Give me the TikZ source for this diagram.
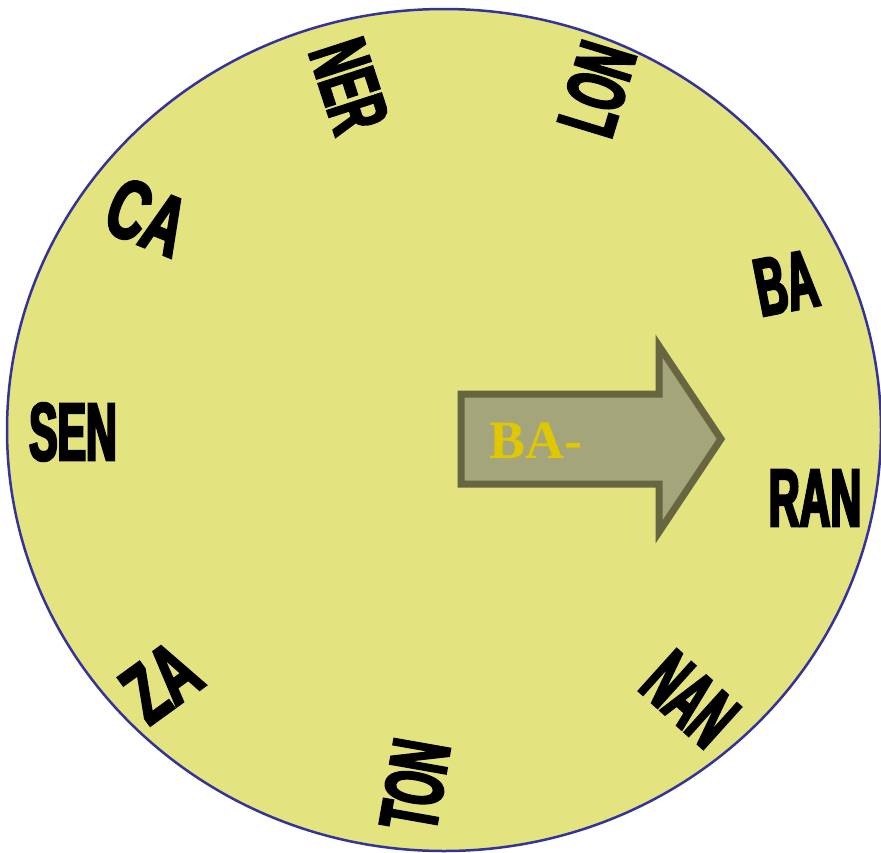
\documentclass[tikz,border=0pt]{standalone}
\usepackage{fontspec}
\newfontfamily\lblfont{Liberation Sans}[UprightFont=* Bold, FakeStretch=0.52, FakeBold=3]
\newfontfamily\lblwidefont{Liberation Sans}[UprightFont=* Bold, FakeStretch=0.64, FakeBold=3]
\newfontfamily\arrfont{Liberation Serif}[UprightFont=* Bold]
\definecolor{discfill}{RGB}{227,227,127}
\definecolor{discline}{RGB}{51,51,153}
\definecolor{arrfill}{RGB}{165,165,124}
\definecolor{arrline}{RGB}{102,102,64}
\definecolor{arrtext}{RGB}{224,200,0}
\tikzset{
  lbl/.style={inner sep=0pt, font=\lblfont\fontsize{82}{82}\selectfont, text=black},
  lblwide/.style={inner sep=0pt, font=\lblwidefont\fontsize{84}{84}\selectfont, text=black},
  disc/.style={fill=discfill, draw=discline, line width=2.5pt},
  arrowbody/.style={fill=arrfill, draw=arrline, line width=7pt, line join=miter},
  arrlabel/.style={inner sep=0pt, font=\arrfont\fontsize{54}{54}\selectfont, text=arrtext, anchor=base west}
}
\begin{document}
\begin{tikzpicture}[x=1pt, y=-1pt]
\useasboundingbox (0,0) rectangle (881,852);
\draw[disc] (444,430) ellipse [x radius=437pt, y radius=421pt];
\draw[arrowbody] (461,394) -- (659,394) -- (659,346) -- (721,439) -- (659,532) -- (659,484) -- (461,484) -- cycle;
\node[arrlabel] (ba) at (489,458) {BA-};
\node[lbl, rotate=-72] (ner) at (349,86) {NER};
\node[lbl, rotate=73] (lon) at (597,89) {LON};
\node[lblwide, rotate=-22] (ca) at (147,217) {CA};
\node[lbl, rotate=11] (bab) at (786,283) {BA};
\node[lbl] (sen) at (73,432) {SEN};
\node[lbl] (ran) at (815,498) {RAN};
\node[lblwide, rotate=36] (za) at (161,682) {ZA};
\node[lbl, rotate=80] (ton) at (415,785) {TON};
\node[lbl, rotate=-42] (nan) at (690,699) {NAN};
\end{tikzpicture}
\end{document}
